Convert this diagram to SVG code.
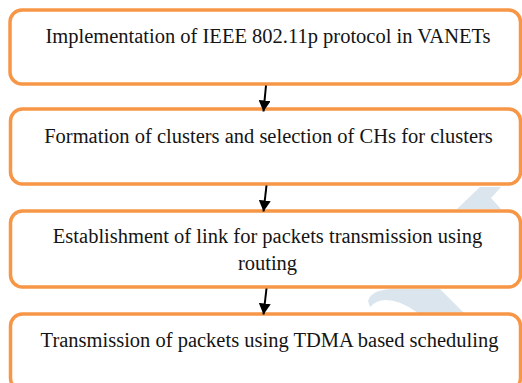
<svg xmlns="http://www.w3.org/2000/svg" width="522" height="383" viewBox="0 0 522 383">
  <defs>
    <style>
      .box { fill: #ffffff; stroke: #f79646; stroke-width: 3.5; }
      .lbl { font-size: 20.5px; fill: #141414; text-anchor: middle; }
      .wm { fill: #dbe5ed; }
      .arrow { stroke: #000000; stroke-width: 2; fill: none; marker-end: url(#head); }
    </style>
    <marker id="head" markerUnits="userSpaceOnUse" viewBox="0 0 11 12" markerWidth="11" markerHeight="12" refX="11" refY="6" orient="auto">
      <path d="M0,0 L11,6 L0,12 Z" fill="#000000"/>
    </marker>
  </defs>

  <rect width="522" height="383" fill="#ffffff"/>

  <!-- faint background emblem, seen only between the steps -->
  <g id="emblem">
    <path class="wm" d="M480,187 L501,187 L491,198 L501,209 L457,209 Z"/>
    <path class="wm" d="M368,301 Q371,290 391,289 L440,289 L464,313 L418,313 Q401,300 385,300 Q375,301 370,307 Z"/>
  </g>

  <g font-family="Liberation Serif, DejaVu Serif, serif">
    <g id="step1">
      <rect class="box" x="10" y="10" width="510.5" height="74" rx="12" ry="12"/>
      <text class="lbl" x="268" y="42.5">Implementation of IEEE 802.11p protocol in VANETs</text>
    </g>

    <g id="step2">
      <rect class="box" x="10.5" y="109" width="510" height="75" rx="12" ry="12"/>
      <text class="lbl" x="268.5" y="142.5">Formation of clusters and selection of CHs for clusters</text>
    </g>

    <g id="step3">
      <rect class="box" x="10.5" y="211" width="510" height="76" rx="12" ry="12"/>
      <text class="lbl" x="267.5" y="243">Establishment of link for packets transmission using</text>
      <text class="lbl" x="267.5" y="269.5">routing</text>
    </g>

    <g id="step4">
      <rect class="box" x="10.5" y="314" width="510" height="76" rx="12" ry="12"/>
      <text class="lbl" x="269.5" y="347">Transmission of packets using TDMA based scheduling</text>
    </g>
  </g>

  <g id="connectors">
    <path class="arrow" d="M266,85.5 L263.5,111.5"/>
    <path class="arrow" d="M266.5,185.5 L263.5,211.5"/>
    <path class="arrow" d="M266.5,288.5 L263.5,314.5"/>
  </g>
</svg>
